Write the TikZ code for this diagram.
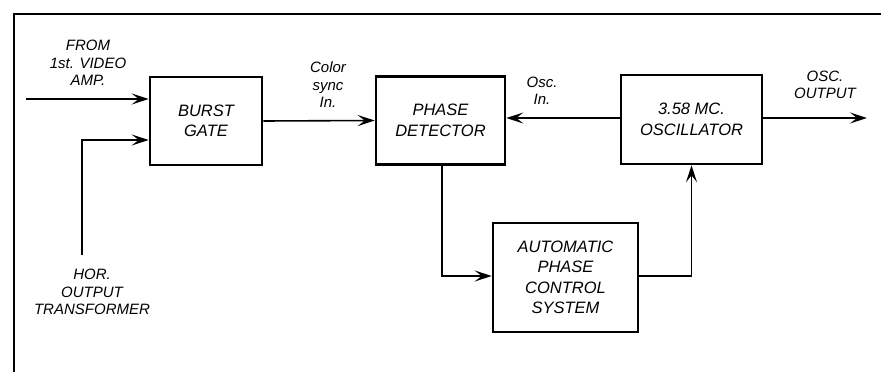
\documentclass[tikz,border=0pt]{standalone}
\usepackage{fontspec}
\setmainfont{Liberation Sans}
\usetikzlibrary{arrows.meta}
\begin{document}
\begin{tikzpicture}[x=1pt,y=-1pt,
  blk/.style={draw,line width=2.6pt,align=center,inner sep=0pt,
    font=\itshape\fontsize{16.5}{20.5}\selectfont},
  lbl/.style={align=center,inner sep=0pt,font=\itshape\fontsize{15}{17.5}\selectfont},
  conn/.style={line width=1.6pt,-{Stealth[length=17pt,width=11pt,inset=7pt]}},
  frame/.style={line width=2.2pt}]
\useasboundingbox (0,0) rectangle (881,372);
\draw[frame] (14,372) -- (14,14) -- (881,14);
% blocks
\node[blk,minimum width=112pt,minimum height=88pt] (burst) at (206,121) {BURST\\GATE};
\node[blk,minimum width=129pt,minimum height=88pt] (pd) at (440.5,120.5) {PHASE\\DETECTOR};
\node[blk,minimum width=141pt,minimum height=89pt] (osc) at (691.5,119.5) {3.58 MC.\\OSCILLATOR};
\node[blk,minimum width=145pt,minimum height=109pt] (apc) at (565.5,277.5) {AUTOMATIC\\PHASE\\CONTROL\\SYSTEM};
% labels
\node[lbl] (lfrom) at (88,63) {FROM\\1st. VIDEO\\AMP.};
\node[lbl] (lhor) at (92,292) {HOR.\\OUTPUT\\TRANSFORMER};
\node[lbl] (lcolor) at (328,85) {Color\\sync\\In.};
\node[lbl] (losc) at (542,91) {Osc.\\In.};
\node[lbl] (lout) at (825,85) {OSC.\\OUTPUT};
% free ends
\coordinate (vin) at (26,99);
\coordinate (hin) at (82,255);
\coordinate (oout) at (867,118);
% connectors
\draw[conn] (vin) -- ([yshift=22pt]burst.west);
\draw[conn] (hin) |- ([yshift=-19pt]burst.west);
\draw[conn] (burst.east) -- (pd.west);
\draw[conn] ([yshift=1.5pt]osc.west) -- ([yshift=1.5pt]osc.west -| pd.east);
\draw[conn] ([yshift=1.5pt]osc.east) -- (oout);
\draw[conn] ([xshift=1.5pt]pd.south) |- ([yshift=1.5pt]apc.west);
\draw[conn] ([yshift=1.5pt]apc.east) -| (osc.south);
\end{tikzpicture}
\end{document}
